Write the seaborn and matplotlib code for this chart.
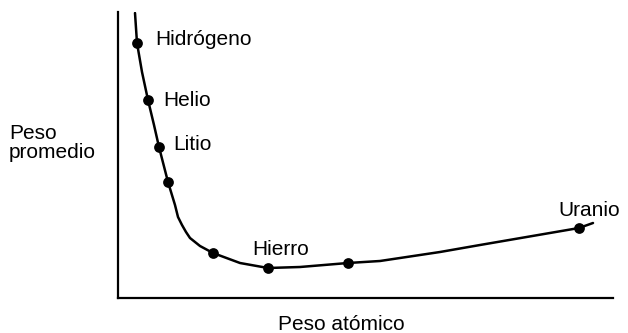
import seaborn as sns
import matplotlib.pyplot as plt

# curve (arbitrary units, no ticks on the chart)
curve_x = [17, 19, 24, 30, 36, 41, 50, 57, 60, 64, 68, 72, 77, 82, 95, 122, 150, 182, 230, 262, 282, 322, 362, 461, 475]
curve_y = [285, 255, 226, 198, 173, 151, 116, 93, 81, 73, 66, 60, 56, 52, 45, 35, 30, 31, 35, 37, 40, 46, 53, 70, 75]

# marked elements on the curve
dot_x = [19, 30, 41, 50, 95, 150, 230, 461]
dot_y = [255, 198, 151, 116, 45, 30, 35, 70]

labels = ['Hidrógeno', 'Helio', 'Litio', 'Hierro', 'Uranio']
label_x = [37, 45, 55, 134, 440]
label_y = [253, 192, 148, 43, 82]

sns.set_style('white')
plt.rcParams['font.family'] = ['Liberation Sans', 'DejaVu Sans']
plt.rcParams['text.color'] = 'black'

fig = plt.figure(figsize=(6.28, 3.33), dpi=100)
ax = fig.add_axes([118 / 628, 35 / 333, 495 / 628, 286 / 333])

#draw the curve and the dots
sns.lineplot(x=curve_x, y=curve_y, sort=False, color='black', linewidth=1.8, ax=ax)
sns.scatterplot(x=dot_x, y=dot_y, color='black', s=60, edgecolor='black', linewidth=0, zorder=3, ax=ax)

for lab, x, y in zip(labels, label_x, label_y):
    ax.text(x, y, lab, fontsize=15, ha='left', va='baseline', color='black')

ax.set_xlim(0, 495)
ax.set_ylim(0, 286)
ax.set_xticks([])
ax.set_yticks([])

#only left and bottom axis lines
sns.despine(ax=ax)
for side in ['left', 'bottom']:
    ax.spines[side].set_linewidth(1.6)
    ax.spines[side].set_color('black')

fig.text(278 / 628, 1 - 330 / 333, 'Peso atómico', fontsize=15, ha='left', va='baseline', color='black')
fig.text(9 / 628, 1 - 158 / 333, 'Peso\npromedio', fontsize=15, ha='left', va='baseline',
         linespacing=1.0, color='black')

fig.savefig('out.png', dpi=100)
